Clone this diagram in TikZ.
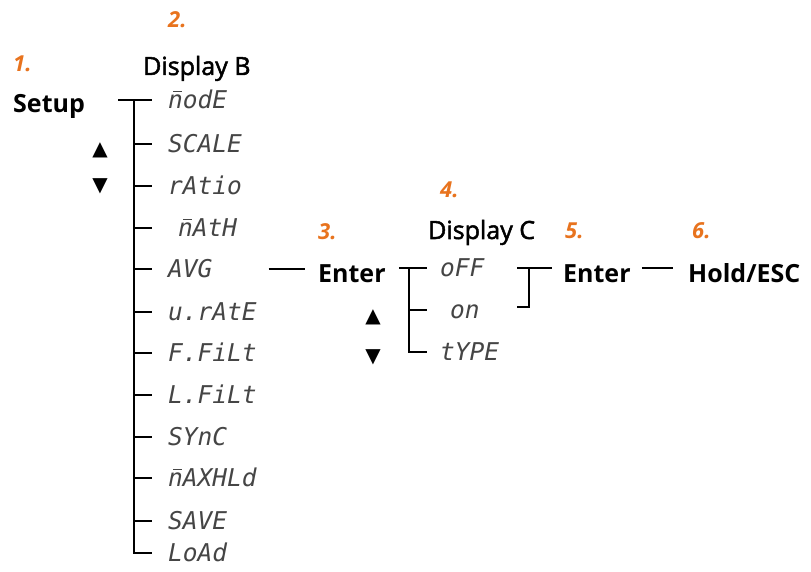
\documentclass[tikz,border=0pt]{standalone}
\usepackage{fontspec}
\usepackage{xcolor}
\setmainfont{Open Sans}
\newfontfamily\headfont{Open Sans}[FakeBold=2]
\newfontfamily\segfont{DejaVu Sans Mono}
\newfontfamily\symfont{DejaVu Sans}
\usetikzlibrary{calc,positioning}

\definecolor{stepnum}{HTML}{E8731E}
\definecolor{seggray}{HTML}{454545}

% n with a bar: the seven-segment m
\newcommand\nbar{\makebox[0pt][l]{\kern0.2em\raisebox{0.66em}{\rule{0.36em}{0.07em}}}n}

\begin{document}
\begin{tikzpicture}[x=1pt,y=-1pt, tree/.style = {line width=2.5pt, line join=miter}]
		\tikzset{label/.style={inner sep=0pt, anchor=base west, font=\fontsize{25}{27}\selectfont\bfseries}}
		\tikzset{header/.style={inner sep=0pt, anchor=base west, font=\headfont\fontsize{25}{27}\selectfont}}
		\tikzset{stepno/.style={inner sep=0pt, anchor=base west, text=stepnum, font=\fontsize{22}{24}\selectfont\bfseries\itshape}}
		\tikzset{item/.style={anchor=west, inner xsep=16pt, inner ysep=0pt, text height=17pt, text depth=0pt, text=seggray, font=\segfont\itshape\fontsize{24.5}{26}\selectfont}}
		\tikzset{itemc/.style={item, inner xsep=13pt}}
		\tikzset{updown/.style={inner sep=0pt, font=\symfont\fontsize{20}{21}\selectfont}}

		\useasboundingbox (0,0) rectangle (811,572);

		% step numbers
		\node[stepno] (one) at (13,72) {1.};
		\node[stepno] (two) at (168,28) {2.};
		\node[stepno] (three) at (318,240) {3.};
		\node[stepno] (four) at (440,197) {4.};
		\node[stepno] (five) at (565,238) {5.};
		\node[stepno] (six) at (692,238) {6.};

		% Setup
		\node[label] (setup) at (13,113) {Setup};
		\node[header] (dispB) at (143,75) {Display B};
		\node[updown] (upB) at (100,150) {▲};
		\node[updown] (downB) at (100,186) {▼};

		% Display B
		\node[item] (modeB) at (152,100) {\nbar odE};
		\node[item] (scaleB) at (152,144) {SCALE};
		\node[item] (ratioB) at (152,186) {rAtio};
		\node[item] (mathB) at (152,228) {\hspace*{10pt}\nbar AtH};
		\node[item] (avgB) at (152,269) {AVG};
		\node[item] (urateB) at (152,312) {u.rAtE};
		\node[item] (ffiltB) at (152,353) {F.FiLt};
		\node[item] (lfiltB) at (152,395) {L.FiLt};
		\node[item] (syncB) at (152,437) {SYnC};
		\node[item] (maxhldB) at (152,478) {\nbar AXHLd};
		\node[item] (saveB) at (152,521) {SAVE};
		\node[item] (loadB) at (152,553) {LoAd};

		% Display C
		\node[label, inner xsep=13pt] (enterA) at (305,282) {Enter};
		\node[header] (dispC) at (428,239) {Display C};
		\node[updown] (upC) at (373,317) {▲};
		\node[updown] (downC) at (373,357) {▼};

		\node[itemc] (offC) at (427,268) {oFF};
		\node[itemc] (onC) at (427,310) {\hspace*{10pt}on};
		\node[itemc] (typeC) at (427,352) {tYPE};

		% Enter, Hold
		\node[label, inner xsep=11pt] (enterB) at (552,282) {Enter};
		\node[label, inner xsep=15pt] (holdEsc) at (673,282) {Hold/ESC};

		% Lines
		\coordinate (barB) at (118,100);
		\coordinate (spineB) at (134,100);
		\coordinate (spineC) at (409,268);
		\coordinate (joinC) at (529,268);
		\coordinate (offEnd) at (517,268);
		\coordinate (onEnd) at (517,307);

		\draw [tree] (barB) -- (modeB.west);
		\draw [tree] (spineB) |- (loadB.west);
		\draw [tree] (spineB |- scaleB.west) -- (scaleB.west);
		\draw [tree] (spineB |- ratioB.west) -- (ratioB.west);
		\draw [tree] (spineB |- mathB.west) -- (mathB.west);
		\draw [tree] (spineB |- avgB.west) -- (avgB.west);
		\draw [tree] (spineB |- urateB.west) -- (urateB.west);
		\draw [tree] (spineB |- ffiltB.west) -- (ffiltB.west);
		\draw [tree] (spineB |- lfiltB.west) -- (lfiltB.west);
		\draw [tree] (spineB |- syncB.west) -- (syncB.west);
		\draw [tree] (spineB |- maxhldB.west) -- (maxhldB.west);
		\draw [tree] (spineB |- saveB.west) -- (saveB.west);

		\draw [tree, shorten <=40pt] (avgB.east) -- (enterA.west |- avgB.east);
		\draw [tree] (enterA.east |- offC.west) -- (offC.west);
		\draw [tree] (spineC) |- (typeC.west);
		\draw [tree] (spineC |- onC.west) -- (onC.west);

		\draw [tree] (offEnd) -- (enterB.west |- offEnd);
		\draw [tree] (joinC) |- (onEnd);
		\draw [tree] (enterB.east |- offEnd) -- (holdEsc.west |- offEnd);

	\end{tikzpicture}
\end{document}
